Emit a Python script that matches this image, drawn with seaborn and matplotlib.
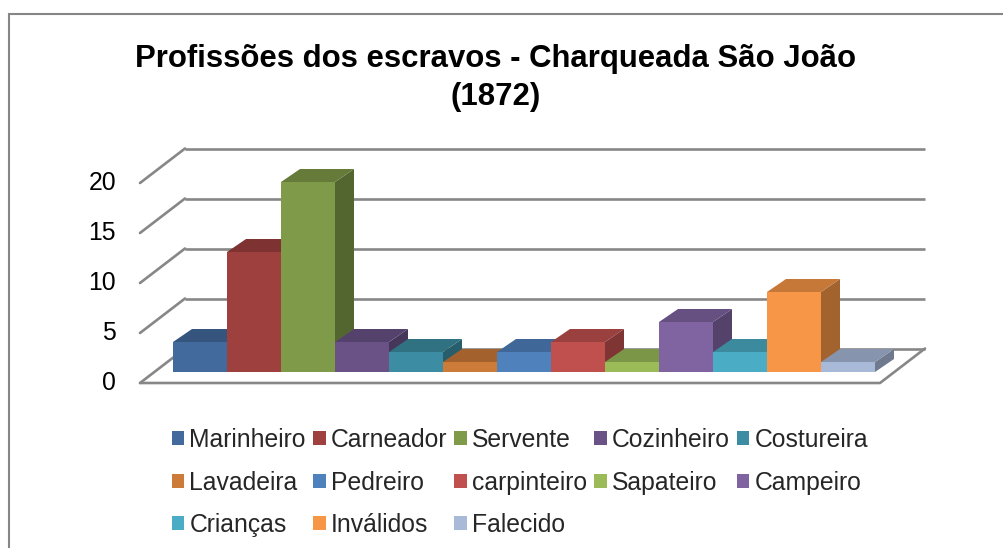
import matplotlib
matplotlib.use("Agg")
import matplotlib.pyplot as plt
import matplotlib.colors as mcolors
from matplotlib.patches import Polygon, Patch, Rectangle
import seaborn as sns
import pandas as pd

# ---- data ----
categories = ["Marinheiro", "Carneador", "Servente", "Cozinheiro", "Costureira",
              "Lavadeira", "Pedreiro", "carpinteiro", "Sapateiro", "Campeiro",
              "Crianças", "Inválidos", "Falecido"]
values = [3, 12, 19, 3, 2, 1, 2, 3, 1, 5, 2, 8, 1]
colors = ["#426A9D", "#9D403E", "#7F9A48", "#6A5287", "#3C8DA3", "#CC7B38",
          "#4F81BD", "#C0504D", "#9BBB59", "#8064A2", "#4BACC6", "#F79646",
          "#A9B9D8"]
y_ticks = [0, 5, 10, 15, 20]
title = "Profissões dos escravos - Charqueada São João\n(1872)"

sns.set_theme(style="white")
plt.rcParams["font.family"] = ["Liberation Sans", "DejaVu Sans"]

W, H = 1004, 548
fig = plt.figure(figsize=(W / 100, H / 100), dpi=100)
fig.patch.set_facecolor("white")

# axes placement in pixels
ax_l, ax_r, ax_t, ax_b = 130, 935, 135, 395
ax = fig.add_axes([ax_l / W, 1 - ax_b / H, (ax_r - ax_l) / W, (ax_b - ax_t) / H])

df = pd.DataFrame({"cat": categories, "val": values})
sns.barplot(data=df, x="cat", y="val", hue="cat", palette=colors, width=1.0,
            saturation=1, legend=False, ax=ax, linewidth=0)

# geometry (data units)
px_x, px_y = 54.0, 10.0
x0_px, y0_px = 173.0, 372.0
ax.set_xlim(-0.5 - (x0_px - ax_l) / px_x, -0.5 + (ax_r - x0_px) / px_x)
ax.set_ylim(-(ax_b - y0_px) / px_y, (y0_px - ax_t) / px_y)
ax.axis("off")

bdx, bdy = 19 / px_x, 1.3           # bar depth offset
wf_x = -0.5 - 33 / px_x             # wall front x
wb_x = -0.5 + 12 / px_x             # wall back x
f_off, b_off = -1.1, 2.35           # front/back y offsets
right_back = -0.5 + (925 - x0_px) / px_x
right_front = -0.5 + (880 - x0_px) / px_x

grid_c = "#878787"
lw = 1.9
for v in y_ticks:
    ax.plot([wb_x, right_back], [v + b_off, v + b_off], color=grid_c, lw=lw, zorder=1,
            solid_capstyle="butt")
    ax.plot([wf_x, wb_x], [v + f_off, v + b_off], color=grid_c, lw=lw, zorder=1)
    ax.text(wf_x - 24 / px_x, v + f_off, str(v), ha="right", va="center",
            fontsize=17.8, color="black")
# floor
ax.plot([wf_x, right_front, right_back], [f_off, f_off, b_off], color=grid_c, lw=lw,
        zorder=1)

def shade(c, f):
    r, g, b = mcolors.to_rgb(c)
    return (r * f, g * f, b * f)

for i, p in enumerate(ax.patches):
    p.set_zorder(10 + 2 * i)
    p.set_edgecolor("none")
    x_l = p.get_x()
    x_r = x_l + p.get_width()
    h = p.get_height()
    c = colors[i]
    side = Polygon([(x_r, 0), (x_r, h), (x_r + bdx, h + bdy), (x_r + bdx, bdy)],
                   closed=True, facecolor=shade(c, 0.66), edgecolor="none",
                   zorder=11 + 2 * i)
    top = Polygon([(x_l, h), (x_r, h), (x_r + bdx, h + bdy), (x_l + bdx, h + bdy)],
                  closed=True, facecolor=shade(c, 0.8), edgecolor="none",
                  zorder=11 + 2 * i)
    ax.add_patch(side)
    ax.add_patch(top)

# title
fig.text(496 / W, 1 - 44 / H, title, ha="center", va="top", fontsize=22.4,
         fontweight="bold", color="black", linespacing=1.35,
         transform=fig.transFigure)

# legend (row-wise order in 5 columns)
handles = [Patch(facecolor=c, edgecolor="none") for c in colors]
order = [0, 5, 10, 1, 6, 11, 2, 7, 12, 3, 8, 4, 9]
fig.legend([handles[k] for k in order], [categories[k] for k in order],
           ncol=5, loc="upper left", bbox_to_anchor=(172 / W, 1 - 428 / H),
           frameon=False, fontsize=17.8, handlelength=0.5, handleheight=0.5,
           handletextpad=0.2, columnspacing=0.3, labelspacing=0.75,
           borderpad=0, borderaxespad=0)

# chart border
fig.patches.append(Rectangle((9 / W, -0.1), 1.2, (1 - 14 / H) + 0.1,
                             transform=fig.transFigure, fill=False,
                             edgecolor="#868686", linewidth=1.5, zorder=0))

fig.savefig("out.png", dpi=100)
